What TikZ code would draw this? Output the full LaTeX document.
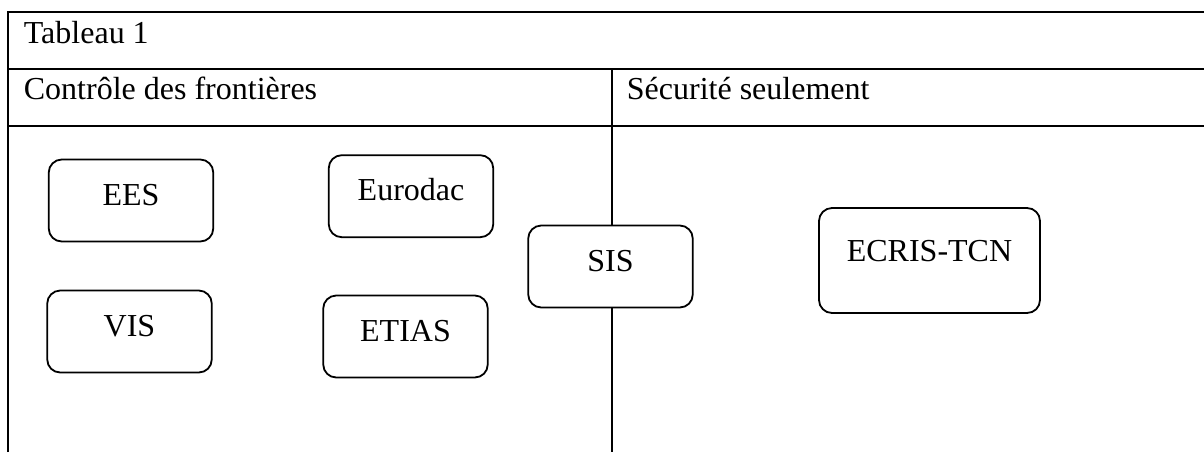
\documentclass[tikz,border=0pt]{standalone}
\usepackage{fontspec}
\setmainfont{Liberation Serif}
\tikzset{
    sysbox/.style={draw,fill=white,rounded corners=6.5pt,inner sep=0pt,anchor=base,
        minimum width=82.25pt,text height=22.75pt,text depth=18.25pt,
        font=\fontsize{16}{18}\selectfont},
    headtext/.style={anchor=base west,inner sep=0pt,font=\fontsize{16}{18}\selectfont}
}

\begin{document}
\begin{tikzpicture}[x=0.5pt,y=-0.5pt,line width=0.9pt]
    \useasboundingbox (0,0) rectangle (1204,452);
    \draw (8.3,452) -- (8.3,12.3) -- (1204,12.3);
    \draw (8.3,69) -- (1204,69);
    \draw (8.3,125.7) -- (1204,125.7);
    \draw (611.7,69) -- (611.7,452);
    \node[headtext] (title) at (23,43) {Tableau 1};
    \node[headtext] (border) at (23,99) {Contrôle des frontières};
    \node[headtext] (security) at (626,99) {Sécurité seulement};
    \node[sysbox] (ees) at (131,205) {EES};
    \node[sysbox] (eurodac) at (411,200.7) {Eurodac};
    \node[sysbox] (vis) at (129.5,336) {VIS};
    \node[sysbox] (etias) at (405.5,341) {ETIAS};
    \node[sysbox] (sis) at (610.5,271) {SIS};
    \node[sysbox,minimum width=110.5pt,text height=26.5pt,text depth=26pt] (ecris) at (929.5,261) {ECRIS-TCN};
\end{tikzpicture}
\end{document}
